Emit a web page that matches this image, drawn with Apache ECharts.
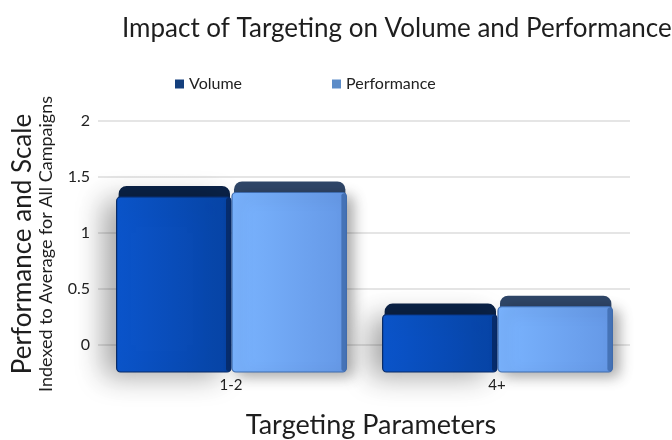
<!DOCTYPE html>
<html>
<head>
<meta charset="utf-8">
<script src="https://cdn.jsdelivr.net/npm/echarts@6/dist/echarts.min.js"></script>
<style>
html,body{margin:0;padding:0;background:#fff;}
#chart{width:672px;height:440px;}
</style>
</head>
<body>
<div id="chart"></div>
<script>
const categories = ['1-2', '4+'];
const volumeValues = [1.42, 0.37];
const performanceValues = [1.46, 0.44];
const seriesNames = ['Volume', 'Performance'];
const yTicks = [0, 0.5, 1, 1.5, 2];

const FONT = 'Lato';
const styles = [
  { legend: '#143f7d', top: '#0b2348', side: '#082a66', front: ['#0b55cc', '#0744a6'] },
  { legend: '#5c8cc8', top: '#2f4668', side: '#3f6cae', front: ['#7ab4ff', '#6598e6'] }
];

function renderBar(params, api) {
  const ci = api.value(0);
  const v = api.value(1);
  const top = api.coord([ci, v]);
  const base = api.coord([ci, 0]);
  const bw = api.size([1, 0])[0];
  const w = bw * 0.43;
  const isVol = params.seriesIndex === 0;
  const x0 = isVol ? top[0] - w : top[0] + 1;
  const st = styles[params.seriesIndex];
  const frontTop = top[1] + 11;
  const bottom = base[1] + 27;
  return {
    type: 'group',
    children: [
      {
        type: 'rect',
        shape: { x: x0 + 2, y: top[1], width: w - 3, height: 18, r: [8, 8, 2, 2] },
        style: { fill: st.top }
      },
      {
        type: 'rect',
        shape: { x: x0, y: frontTop, width: w, height: bottom - frontTop, r: 4 },
        style: {
          fill: new echarts.graphic.LinearGradient(0, 0, 1, 0, [
            { offset: 0, color: st.front[0] },
            { offset: 1, color: st.front[1] }
          ]),
          stroke: st.side,
          lineWidth: 1.2,
          shadowBlur: isVol ? 28 : 14,
          shadowColor: 'rgba(0,0,0,0.35)',
          shadowOffsetX: isVol ? -12 : 6,
          shadowOffsetY: 4
        }
      },
      {
        type: 'rect',
        shape: { x: x0 + w - 5, y: frontTop + 1, width: 5, height: bottom - frontTop - 2, r: 2 },
        style: { fill: st.side, opacity: 0.85 }
      }
    ]
  };
}

const chart = echarts.init(document.getElementById('chart'), null, { renderer: 'canvas' });
chart.setOption({
  animation: false,
  backgroundColor: '#ffffff',
  title: {
    text: 'Impact of Targeting on Volume and Performance',
    left: 117,
    top: 11,
    textStyle: { fontFamily: FONT, fontSize: 26, fontWeight: 'normal', color: '#1e1e1e' }
  },
  legend: {
    data: seriesNames,
    left: 170,
    top: 71,
    icon: 'rect',
    itemWidth: 9,
    itemHeight: 9,
    itemGap: 90,
    textStyle: { fontFamily: FONT, fontSize: 16, color: '#222' }
  },
  grid: { left: 98, right: 42, top: 121, bottom: 95 },
  xAxis: {
    type: 'category',
    data: categories,
    axisLine: { show: false },
    axisTick: { show: false },
    axisLabel: { margin: 33, fontFamily: FONT, fontSize: 15, color: '#222' }
  },
  yAxis: {
    type: 'value',
    min: yTicks[0],
    max: yTicks[yTicks.length - 1],
    interval: 0.5,
    axisLine: { show: false },
    axisTick: { show: false },
    splitLine: { lineStyle: { color: '#dcdcdc', width: 1.5 } },
    axisLabel: { margin: 8, fontFamily: FONT, fontSize: 16, color: '#222' }
  },
  graphic: [
    {
      type: 'text', x: 36, y: 244, rotation: Math.PI / 2,
      style: { text: 'Performance and Scale', fontFamily: FONT, fontSize: 26, fill: '#1e1e1e', align: 'center', verticalAlign: 'bottom' }
    },
    {
      type: 'text', x: 37, y: 244, rotation: Math.PI / 2,
      style: { text: 'Indexed to Average for All Campaigns', fontFamily: FONT, fontSize: 18, fill: '#1e1e1e', align: 'center', verticalAlign: 'top' }
    },
    {
      type: 'text', x: 371, y: 425,
      style: { text: 'Targeting Parameters', fontFamily: FONT, fontSize: 27, fill: '#1e1e1e', align: 'center', verticalAlign: 'middle' }
    }
  ],
  series: [
    {
      name: seriesNames[0],
      type: 'custom',
      clip: false,
      itemStyle: { color: styles[0].legend },
      renderItem: renderBar,
      data: volumeValues.map((v, i) => [i, v])
    },
    {
      name: seriesNames[1],
      type: 'custom',
      clip: false,
      itemStyle: { color: styles[1].legend },
      renderItem: renderBar,
      data: performanceValues.map((v, i) => [i, v])
    }
  ]
});
</script>
</body>
</html>
